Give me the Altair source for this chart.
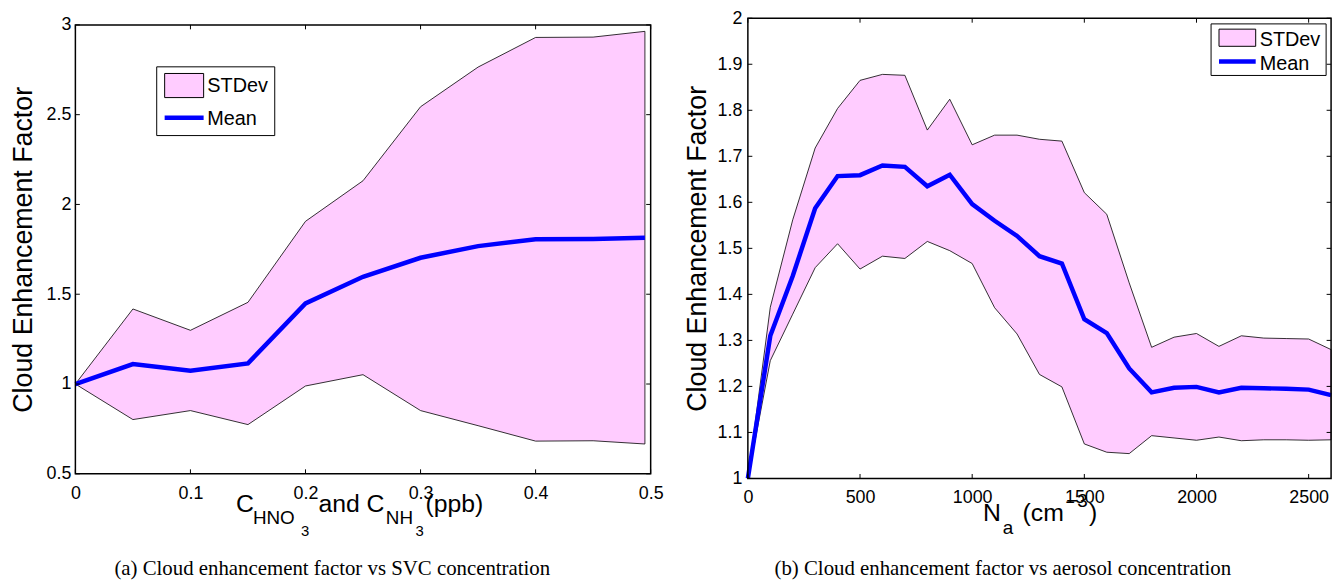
import altair as alt
import pandas as pd

# ---------------- data ----------------
left_x = [0, 0.05, 0.1, 0.15, 0.2, 0.25, 0.3, 0.35, 0.4, 0.45, 0.495]
left_mean = [1.0, 1.111, 1.074, 1.115, 1.449, 1.597, 1.703, 1.768, 1.806, 1.808, 1.814]
left_upper = [1.0, 1.418, 1.299, 1.455, 1.906, 2.132, 2.544, 2.765, 2.930, 2.932, 2.964]
left_lower = [1.0, 0.802, 0.852, 0.774, 0.989, 1.052, 0.852, 0.768, 0.682, 0.684, 0.666]

right_x = [0, 100, 200, 300, 400, 500, 600, 700, 800, 900, 1000, 1100, 1200, 1300,
           1400, 1500, 1600, 1700, 1800, 1900, 2000, 2100, 2200, 2300, 2400, 2500, 2600]
right_mean = [1.0, 1.310, 1.440, 1.587, 1.657, 1.659, 1.680, 1.677, 1.635, 1.660, 1.596,
              1.560, 1.527, 1.483, 1.467, 1.346, 1.316, 1.239, 1.187, 1.197, 1.199, 1.187,
              1.197, 1.196, 1.195, 1.193, 1.181]
right_upper = [1.0, 1.372, 1.562, 1.718, 1.804, 1.865, 1.878, 1.876, 1.757, 1.824, 1.725,
               1.746, 1.746, 1.737, 1.733, 1.621, 1.574, 1.425, 1.285, 1.307, 1.315, 1.287,
               1.310, 1.305, 1.304, 1.303, 1.280]
right_lower = [1.0, 1.256, 1.357, 1.458, 1.510, 1.455, 1.483, 1.478, 1.515, 1.495, 1.467,
               1.371, 1.314, 1.226, 1.199, 1.075, 1.057, 1.054, 1.093, 1.088, 1.083, 1.090,
               1.082, 1.084, 1.084, 1.083, 1.084]

left_xticks = [0, 0.1, 0.2, 0.3, 0.4, 0.5]
left_yticks = [0.5, 1, 1.5, 2, 2.5, 3]
right_xticks = [0, 500, 1000, 1500, 2000, 2500]
right_yticks = [1, 1.1, 1.2, 1.3, 1.4, 1.5, 1.6, 1.7, 1.8, 1.9, 2]

y_title = "Cloud Enhancement Factor"
legend_labels = ["STDev", "Mean"]
caption_a = "(a) Cloud enhancement factor vs SVC concentration"
caption_b = "(b) Cloud enhancement factor vs aerosol concentration"

FONT = "Liberation Sans"
SERIF = "Liberation Serif"
PINK = "#FFCCFF"
BLUE = "#0000FF"
TICK = 4.5


def one():
    return alt.Data(values=[{"k": 0}])


def txt(x, y, s, size, font=FONT, align="left", baseline="alphabetic"):
    return alt.Chart(one()).mark_text(
        text=s, font=font, fontSize=size, align=align, baseline=baseline, color="black"
    ).encode(x=alt.value(x), y=alt.value(y))


def box(x1, x2, y1, y2, fill, sw=1):
    return alt.Chart(one()).mark_rect(fill=fill, stroke="black", strokeWidth=sw).encode(
        x=alt.value(x1), x2=alt.value(x2), y=alt.value(y1), y2=alt.value(y2)
    )


def hline(x1, x2, y, color, sw):
    return alt.Chart(one()).mark_rule(color=color, strokeWidth=sw).encode(
        x=alt.value(x1), x2=alt.value(x2), y=alt.value(y)
    )


def ghost(x, y):
    return alt.Chart(one()).mark_rule(opacity=0, strokeOpacity=0).encode(
        x=alt.value(x), x2=alt.value(x), y=alt.value(y), y2=alt.value(y)
    )


def panel(xs_, mean_, lo_, up_, xdom, ydom, xticks, yticks, W, H, top, xfmt,
          ylabpad, ytitlepad, xlabpad, extras):
    df = pd.DataFrame({"x": xs_, "mean": mean_, "lower": lo_, "upper": up_})
    xs = alt.Scale(domain=xdom, nice=False, zero=False)
    ys = alt.Scale(domain=ydom, nice=False, zero=False, range=[H, top])
    base = alt.Chart(df)
    area = base.mark_area(fill=PINK, stroke="black", strokeWidth=0.8, opacity=1).encode(
        x=alt.X("x:Q", scale=xs,
                axis=alt.Axis(values=xticks, format=xfmt, title=None, labelFlush=False,
                              labelPadding=xlabpad, labelOverlap=False)),
        y=alt.Y("lower:Q", scale=ys,
                axis=alt.Axis(values=yticks, format="~g", title=y_title,
                              labelPadding=ylabpad, titlePadding=ytitlepad,
                              labelOverlap=False)),
        y2="upper:Q",
    )
    line = base.mark_line(color=BLUE, strokeWidth=4.5).encode(x="x:Q", y="mean:Q")

    frame = alt.Chart(one()).mark_rect(
        fill="transparent", stroke="black", strokeWidth=1.5
    ).encode(x=alt.value(0), x2=alt.value(W), y=alt.value(top), y2=alt.value(H))

    xt = pd.DataFrame({"x": xticks})
    yt = pd.DataFrame({"lower": yticks})
    tb = alt.Chart(xt).mark_rule(color="black", strokeWidth=1).encode(
        x="x:Q", y=alt.value(H - TICK), y2=alt.value(H))
    tt = alt.Chart(xt).mark_rule(color="black", strokeWidth=1).encode(
        x="x:Q", y=alt.value(top), y2=alt.value(top + TICK))
    tl = alt.Chart(yt).mark_rule(color="black", strokeWidth=1).encode(
        y="lower:Q", x=alt.value(0), x2=alt.value(TICK))
    tr = alt.Chart(yt).mark_rule(color="black", strokeWidth=1).encode(
        y="lower:Q", x=alt.value(W - TICK), x2=alt.value(W))

    return alt.layer(area, line, frame, tb, tt, tl, tr, *extras).properties(width=W, height=H)


# Both panels share the same origin (abs y = 15); the left frame starts 6.7 px lower.
D = 6.7

# ---------------- left panel ----------------
LW, LH = 580, 459.3
left_extras = [
    ghost(-75, -15), ghost(600, 0),
    box(82, 201, 42.3 + D, 111.6 + D, "white"),
    box(90, 129.3, 49 + D, 73.3 + D, PINK),
    hline(90, 129.3, 93.6 + D, BLUE, 4.5),
    txt(133, 67.6 + D, legend_labels[0], 20),
    txt(133, 101 + D, legend_labels[1], 20),
    # x-axis title with subscripts
    txt(162, 491 + D, "C", 25),
    txt(179, 503.3 + D, "HNO", 19),
    txt(227.5, 515 + D, "3", 15),
    txt(245, 491 + D, "and C", 25),
    txt(313, 503.3 + D, "NH", 19),
    txt(343, 515 + D, "3", 15),
    txt(353, 491 + D, "(ppb)", 25),
    txt(259, 565, caption_a, 21, font=SERIF, align="center", baseline="bottom"),
]
left = panel(left_x, left_mean, left_lower, left_upper, [0, 0.5], [0.5, 3],
             left_xticks, left_yticks, LW, LH, D, "~g", 4.5, 9, 11, left_extras)

# ---------------- right panel ----------------
RW, RH = 588, 464
right_extras = [
    ghost(-76, -15),
    box(467, 583, 5.7, 57.7, "white"),
    box(475, 512, 11, 28.3, PINK),
    hline(475, 512, 43.7, BLUE, 4.5),
    txt(516, 27.7, legend_labels[0], 20),
    txt(516, 51.7, legend_labels[1], 20),
    txt(237, 506.7, "N", 25),
    txt(257, 520, "a", 19),
    txt(277, 506.7, "(cm", 25),
    txt(321, 493, "\u22123", 19),
    txt(344, 506.7, ")", 25),
    txt(257, 565, caption_b, 21, font=SERIF, align="center", baseline="bottom"),
]
right = panel(right_x, right_mean, right_lower, right_upper, [0, 2600], [1, 2],
              right_xticks, right_yticks, RW, RH, 0, "d", 6, 5.5, 10, right_extras)

chart = (
    alt.hconcat(left, right, spacing=0)
    .properties(padding=0, background="white")
    .configure_view(stroke="transparent")
    .configure_axis(
        domain=False, ticks=False, tickSize=0, grid=False,
        labelFont=FONT, labelFontSize=18, labelColor="black",
        titleFont=FONT, titleFontSize=27, titleFontWeight="normal", titleColor="black",
    )
)

chart.save("out.html", embed_options={"renderer": "svg", "actions": False})
